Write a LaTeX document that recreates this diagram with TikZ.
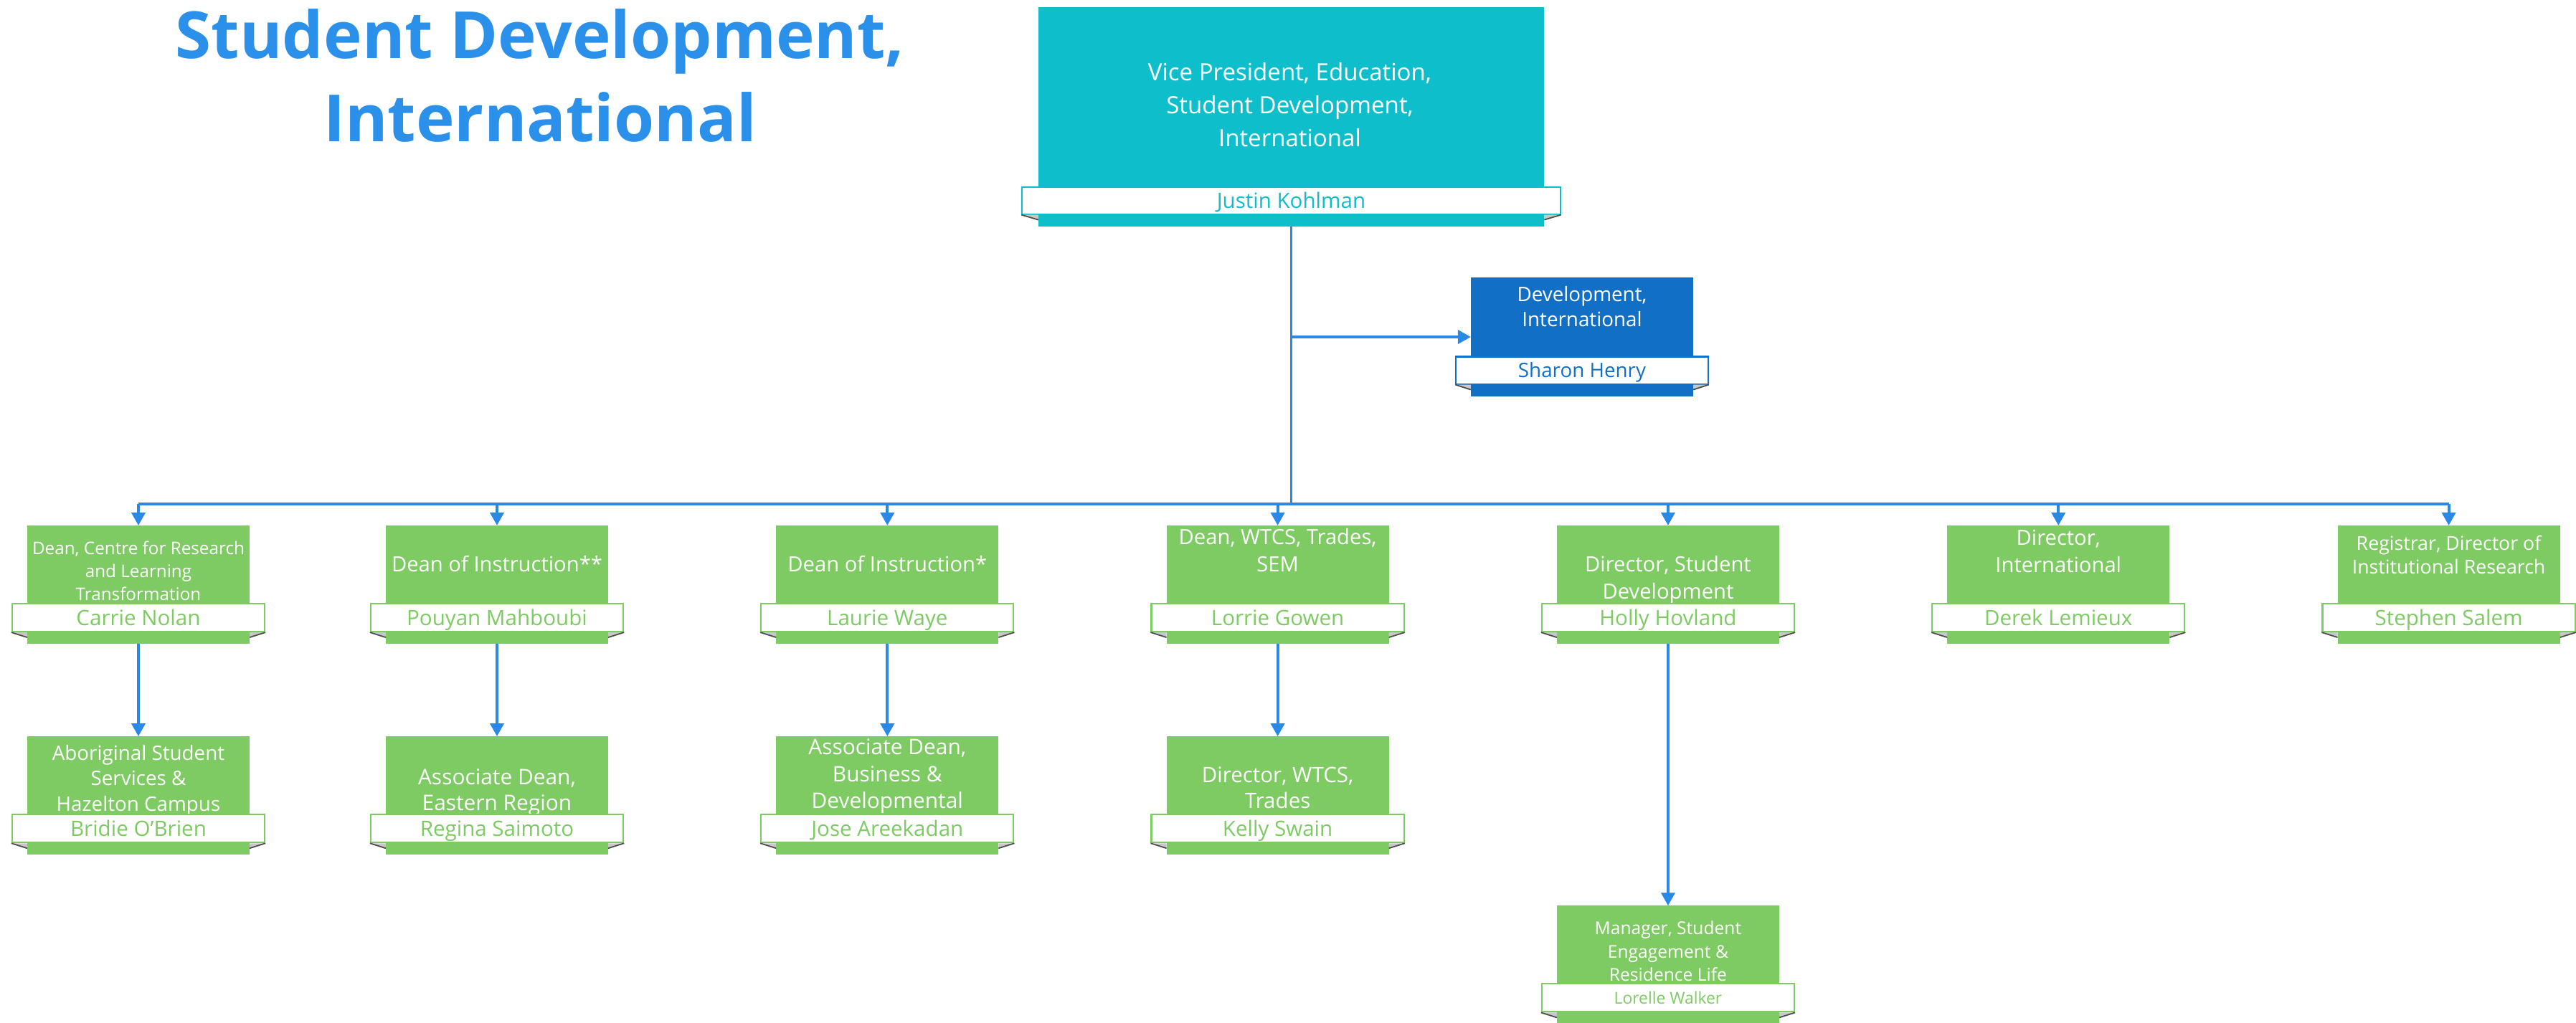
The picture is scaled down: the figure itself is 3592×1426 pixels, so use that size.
\documentclass[tikz,border=0pt]{standalone}
\usepackage{fontspec}
\setmainfont{Open Sans}
\usetikzlibrary{arrows.meta, positioning, calc}

\definecolor{vpteal}{HTML}{0EBECA}
\definecolor{devblue}{HTML}{1170C6}
\definecolor{unitgreen}{HTML}{7ECA63}
\definecolor{linkblue}{HTML}{2A89E6}
\definecolor{headblue}{HTML}{2B90EA}

\begin{document}
\begin{tikzpicture}[x=0.01cm, y=-0.01cm,
  every node/.style={inner sep=0pt},
  unitbox/.style={rectangle, fill=unitgreen, outer sep=0pt, minimum width=3.1cm, minimum height=1.65cm},
  ttl/.style={text=white, align=center, font=\fontsize{8.3}{10.8}\selectfont},
  nameband/.style={rectangle, draw=unitgreen, line width=0.6pt, fill=white, text=unitgreen,
    minimum width=3.52cm, minimum height=0.39cm, text height=6pt, text depth=0pt,
    font=\fontsize{8.4}{10}\selectfont, yshift=0.365cm},
  head/.style={text=headblue, align=center, font=\fontsize{25.8}{33}\selectfont\bfseries},
  conn/.style={draw=linkblue, line width=1.1pt},
  arrow/.style={conn, -{Triangle[length=0.18cm, width=0.19cm]}},
  foldtri/.style={fill=black!22},
  foldedge/.style={draw=black!70, line width=0.5pt}
]
\useasboundingbox (0,0) rectangle (3592,1426);

% Heading
\node[head] (heading) at (753,105) {Student Development,\\International};

% Top
\node[unitbox, fill=vpteal, minimum width=7.05cm, minimum height=3.06cm] (vp) at (1800.5,163) {};
\node[ttl, font=\fontsize{9.4}{13.1}\selectfont] (vp-t) at ($(vp.north)+(-2,136)$) {Vice President, Education,\\Student Development,\\International};
\node[nameband, draw=vpteal, text=vpteal, minimum width=7.5cm, minimum height=0.38cm] (vp-n) at (vp.south) {Justin Kohlman};

\node[unitbox, fill=devblue, minimum height=1.66cm] (dev) at (2206,470) {};
\node[ttl, font=\fontsize{7.9}{10}\selectfont] (dev-t) at ($(dev.north)+(0,40.5)$) {Development,\\International};
\node[nameband, draw=devblue, text=devblue, minimum width=3.51cm, minimum height=0.38cm, text height=5.7pt, font=\fontsize{7.9}{10}\selectfont] (dev-n) at (dev.south) {Sharon Henry};

% Second level
\node[unitbox] (crlt) at (193,815.5) {};
\node[unitbox] (doi2) at (693,815.5) {};
\node[unitbox, right=2.34cm of doi2] (doi1) {};
\node[unitbox, right=2.34cm of doi1] (wtcs) {};
\node[unitbox, right=2.34cm of wtcs] (sdev) {};
\node[unitbox, right=2.34cm of sdev] (intl) {};
\node[unitbox, right=2.34cm of intl] (reg) {};

\node[ttl, font=\fontsize{6.9}{9}\selectfont] (crlt-t) at ($(crlt.north)+(0,63.5)$) {Dean, Centre for Research\\and Learning\\Transformation};
\node[ttl] (doi2-t) at ($(doi2.north)+(0,54)$) {Dean of Instruction**};
\node[ttl] (doi1-t) at ($(doi1.north)+(0,54)$) {Dean of Instruction*};
\node[ttl] (wtcs-t) at ($(wtcs.north)+(0,34.5)$) {Dean, WTCS, Trades,\\SEM};
\node[ttl] (sdev-t) at ($(sdev.north)+(0,76)$) {Director, Student\\Development};
\node[ttl] (intl-t) at ($(intl.north)+(0,36)$) {Director,\\International};
\node[ttl, font=\fontsize{7.6}{9.4}\selectfont] (reg-t) at ($(reg.north)+(0,40.5)$) {Registrar, Director of\\Institutional Research};

\node[nameband] (crlt-n) at (crlt.south) {Carrie Nolan};
\node[nameband] (doi2-n) at (doi2.south) {Pouyan Mahboubi};
\node[nameband] (doi1-n) at (doi1.south) {Laurie Waye};
\node[nameband] (wtcs-n) at (wtcs.south) {Lorrie Gowen};
\node[nameband] (sdev-n) at (sdev.south) {Holly Hovland};
\node[nameband] (intl-n) at (intl.south) {Derek Lemieux};
\node[nameband] (reg-n) at (reg.south) {Stephen Salem};

% Third level
\node[unitbox, below=1.29cm of crlt] (asss) {};
\node[unitbox, below=1.29cm of doi2] (adeast) {};
\node[unitbox, below=1.29cm of doi1] (adbus) {};
\node[unitbox, below=1.29cm of wtcs] (dwtcs) {};
\node[unitbox, below=3.65cm of sdev] (mgrsel) {};

\node[ttl, font=\fontsize{7.9}{10}\selectfont] (asss-t) at ($(asss.north)+(0,61.5)$) {Aboriginal Student\\Services \&\\Hazelton Campus};
\node[ttl, font=\fontsize{8.5}{10.5}\selectfont] (adeast-t) at ($(adeast.north)+(0,78)$) {Associate Dean,\\Eastern Region};
\node[ttl, font=\fontsize{8.5}{10.6}\selectfont] (adbus-t) at ($(adbus.north)+(0,55.5)$) {Associate Dean,\\Business \&\\Developmental};
\node[ttl, font=\fontsize{8.4}{10.2}\selectfont] (dwtcs-t) at ($(dwtcs.north)+(0,71.5)$) {Director, WTCS,\\Trades};
\node[ttl, font=\fontsize{7}{9.2}\selectfont] (mgrsel-t) at ($(mgrsel.north)+(0,63.5)$) {Manager, Student\\Engagement \&\\Residence Life};

\node[nameband] (asss-n) at (asss.south) {Bridie O’Brien};
\node[nameband] (adeast-n) at (adeast.south) {Regina Saimoto};
\node[nameband] (adbus-n) at (adbus.south) {Jose Areekadan};
\node[nameband] (dwtcs-n) at (dwtcs.south) {Kelly Swain};
\node[nameband, text height=4.7pt, font=\fontsize{6.5}{8}\selectfont] (mgrsel-n) at (mgrsel.south) {Lorelle Walker};

% Ribbon folds under the name bands
\foreach \u in {vp, dev, crlt, doi2, doi1, wtcs, sdev, intl, reg, asss, adeast, adbus, dwtcs, mgrsel} {
  \fill[foldtri] (\u-n.south west) -- (\u-n.south west -| \u.west) -- ++(0,7) -- cycle;
  \draw[foldedge] (\u-n.south west) -- ($(\u-n.south west -| \u.west)+(0,7)$);
  \fill[foldtri] (\u-n.south east) -- (\u-n.south east -| \u.east) -- ++(0,7) -- cycle;
  \draw[foldedge] (\u-n.south east) -- ($(\u-n.south east -| \u.east)+(0,7)$);
}

% Connectors
\coordinate (bus) at (0,703);
\draw[conn] (vp.south) -- (vp.south |- bus);
\draw[arrow] (vp.south |- dev.west) -- (dev.west);
\draw[conn] (crlt.north |- bus) -- (reg.north |- bus);
\foreach \u in {crlt, doi2, doi1, wtcs, sdev, intl, reg}
  \draw[arrow] (\u.north |- bus) -- (\u.north);

\draw[arrow] (crlt.south) -- (asss.north);
\draw[arrow] (doi2.south) -- (adeast.north);
\draw[arrow] (doi1.south) -- (adbus.north);
\draw[arrow] (wtcs.south) -- (dwtcs.north);
\draw[arrow] (sdev.south) -- (mgrsel.north);
\end{tikzpicture}
\end{document}
